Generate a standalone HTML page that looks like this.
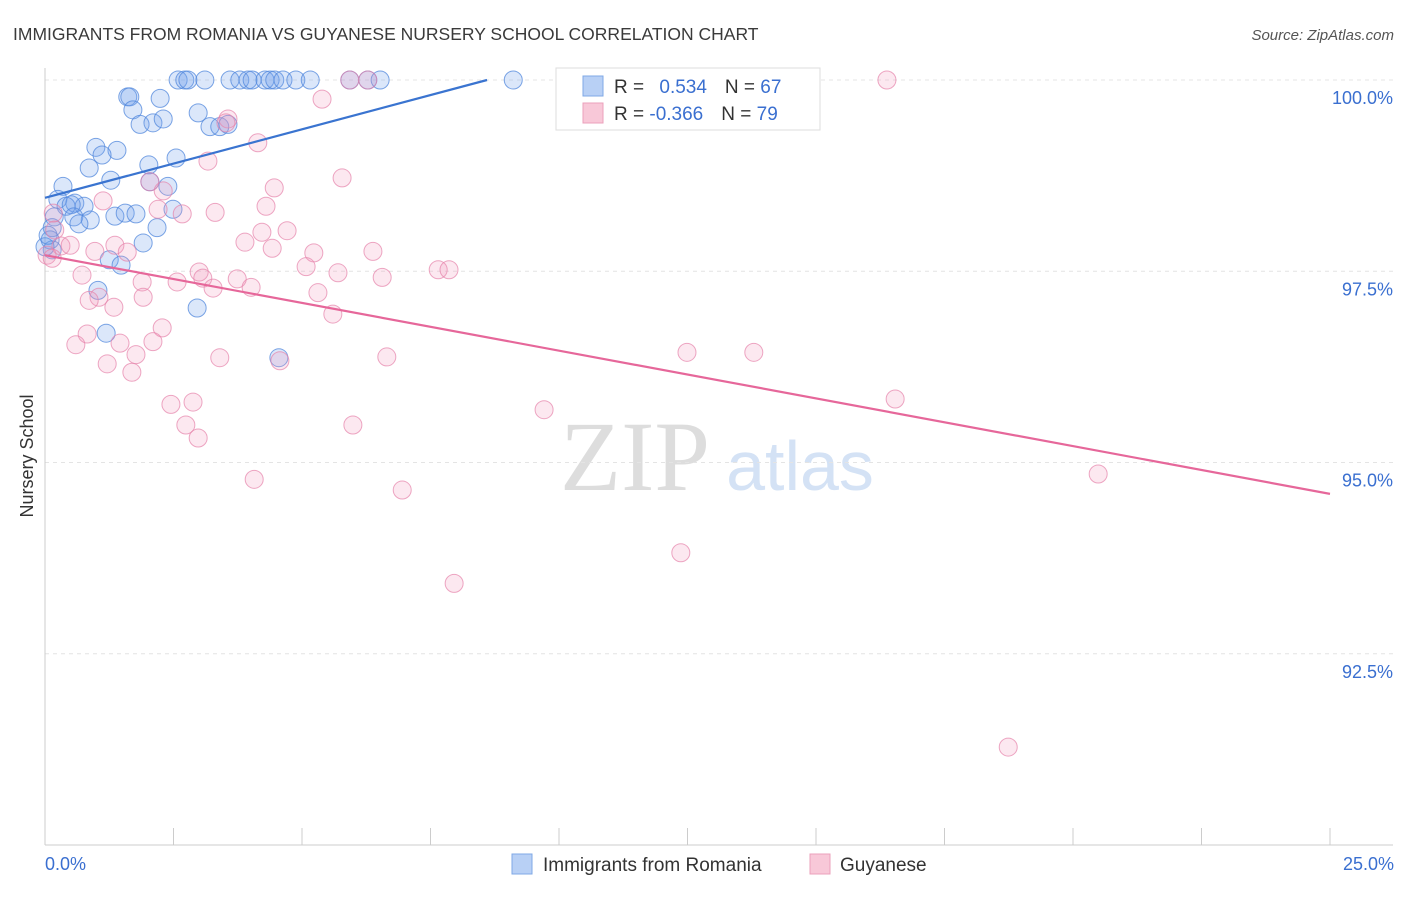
<!DOCTYPE html>
<html><head><meta charset="utf-8"><style>
body{margin:0;background:#fff;font-family:"Liberation Sans",sans-serif;}
</style></head><body>
<svg id="chart" width="1406" height="892" xmlns="http://www.w3.org/2000/svg" font-family="Liberation Sans, sans-serif">
<text x="13" y="40" font-size="17.5" fill="#3a3a3a">IMMIGRANTS FROM ROMANIA VS GUYANESE NURSERY SCHOOL CORRELATION CHART</text>
<text x="1394" y="40" font-size="15" fill="#555" text-anchor="end" font-style="italic">Source: ZipAtlas.com</text>
<text transform="translate(33,456) rotate(-90)" font-size="18" fill="#333" text-anchor="middle">Nursery School</text>
<g>
<text x="635" y="490" font-size="100" fill="#ddd" font-family="Liberation Serif, serif" text-anchor="middle">ZIP</text>
<text x="800" y="490" font-size="70" fill="#d4e2f5" text-anchor="middle">atlas</text>
</g>
<g id="grid"></g><g id="axes"></g><g id="pts"></g><g id="lines"></g>
<g>
<rect x="556" y="68" width="264" height="62" fill="#fff" stroke="#ddd"/>
<rect x="583" y="76" width="20" height="20" fill="#b8d0f5" stroke="#7fa8e6"/>
<text x="614" y="93" font-size="19" fill="#333">R = <tspan fill="#3a6fd0" dx="10">0.534</tspan><tspan dx="18" fill="#333">N = </tspan><tspan fill="#3a6fd0">67</tspan></text>
<rect x="583" y="103" width="20" height="20" fill="#f8c8d8" stroke="#eba0bb"/>
<text x="614" y="120" font-size="19" fill="#333">R = <tspan fill="#3a6fd0">-0.366</tspan><tspan dx="18" fill="#333">N = </tspan><tspan fill="#3a6fd0">79</tspan></text>
</g>
<g>
<rect x="512" y="854" width="20" height="20" fill="#b8d0f5" stroke="#7fa8e6"/>
<text x="543" y="871" font-size="19" fill="#333">Immigrants from Romania</text>
<rect x="810" y="854" width="20" height="20" fill="#f8c8d8" stroke="#eba0bb"/>
<text x="840" y="871" font-size="19" fill="#333">Guyanese</text>
</g>
</svg>
<script>
const blueX=[2.59,2.72,2.78,3.11,3.60,3.79,3.95,4.03,4.28,4.38,4.47,4.63,4.88,5.16,5.93,6.28,6.52,9.11,1.61,1.65,2.24,1.71,2.98,1.85,2.10,2.30,3.21,3.40,3.56,0.99,1.40,1.11,2.55,2.02,0.86,1.28,0.35,2.04,2.39,0.25,0.58,0.76,0.41,0.51,0.18,0.56,0.88,0.66,1.36,1.56,1.77,2.49,2.18,1.91,0.14,0.10,0.14,1.25,1.48,1.03,2.96,1.19,4.55,0,0.06];
const blueY=[100,100,100,100,100,100,100,100,100,100,100,100,100,100,100,100,100,100,99.78,99.78,99.76,99.61,99.57,99.42,99.44,99.49,99.39,99.39,99.42,99.12,99.08,99.02,98.98,98.89,98.85,98.69,98.61,98.67,98.61,98.44,98.39,98.35,98.35,98.37,98.21,98.21,98.17,98.12,98.22,98.26,98.25,98.31,98.07,97.87,98.07,97.91,97.78,97.65,97.58,97.25,97.02,96.69,96.37,97.82,97.97];
const pinkX=[5.93,6.28,16.38,5.39,3.56,3.52,4.14,3.17,5.78,4.46,2.04,2.30,1.13,2.67,3.31,2.20,4.30,0.16,0.19,4.22,4.71,3.89,4.42,6.38,5.23,0.31,0.49,0.97,1.36,1.60,0.04,0.14,0.72,5.08,5.70,3.00,3.07,3.74,6.56,7.65,7.86,1.89,2.57,3.27,4.01,5.31,1.05,0.86,1.91,1.34,5.60,2.28,0.82,0.60,2.10,1.46,1.77,1.21,3.40,6.65,1.69,4.57,12.49,13.79,2.45,2.88,9.71,16.54,2.74,2.98,5.99,4.07,6.95,20.49,12.37,7.96,18.74];
const pinkY=[100,100,100,99.75,99.49,99.44,99.18,98.94,98.72,98.59,98.67,98.55,98.42,98.25,98.27,98.31,98.35,98.26,98.04,98.01,98.03,97.88,97.80,97.76,97.74,97.83,97.84,97.76,97.84,97.75,97.71,97.67,97.45,97.56,97.48,97.49,97.41,97.40,97.42,97.52,97.52,97.36,97.36,97.28,97.29,97.22,97.16,97.12,97.16,97.03,96.94,96.76,96.68,96.54,96.58,96.56,96.41,96.29,96.37,96.38,96.18,96.33,96.44,96.44,95.76,95.79,95.69,95.83,95.49,95.32,95.49,94.78,94.64,94.85,93.82,93.42,91.28];
const yTicks=[100,97.5,95,92.5];
const yTickLabels=["100.0%","97.5%","95.0%","92.5%"];
const blueTrend=[[0,98.46],[8.6,100]];
const pinkTrend=[[0,97.71],[25,94.59]];
const NS="http://www.w3.org/2000/svg";
const sx=v=>45+v*51.4, sy=v=>80+(100-v)*76.5;
function mk(tag,attrs,parent){const e=document.createElementNS(NS,tag);for(const k in attrs)e.setAttribute(k,attrs[k]);document.getElementById(parent).appendChild(e);return e;}
yTicks.forEach((t,i)=>{
 const l=mk('line',{x1:45,x2:1393,y1:sy(t),y2:sy(t),stroke:'#e4e4e4','stroke-dasharray':'4,4'},'grid');
 
 
 const tx=mk('text',{x:1393,y:sy(t)+24,'font-size':18,fill:'#3a6fd0','text-anchor':'end'},'grid');
 tx.textContent=yTickLabels[i];
 
 
});
let ax=mk('line',{x1:45,x2:45,y1:68,y2:845,stroke:'#ccc'},'axes');


ax=mk('line',{x1:45,x2:1393,y1:845,y2:845,stroke:'#ccc'},'axes');


for(let i=0;i<=10;i++){const t=mk('line',{x1:sx(i*2.5),x2:sx(i*2.5),y1:828,y2:845,stroke:'#ccc'},'axes');
 
 }
let xl=mk('text',{x:45,y:870,'font-size':18,fill:'#3a6fd0'},'axes');xl.textContent='0.0%';


xl=mk('text',{x:1394,y:870,'font-size':18,fill:'#3a6fd0','text-anchor':'end'},'axes');xl.textContent='25.0%';


function pts(X,Y,fill,stroke,name){X.forEach((x,i)=>{const c=mk('circle',{cx:sx(x),cy:sy(Y[i]),r:9,fill:fill,stroke:stroke,'stroke-width':1},'pts');
 
 });}
pts(blueX,blueY,'rgba(110,160,235,0.25)','rgba(80,135,220,0.75)','romania-point');
pts(pinkX,pinkY,'rgba(240,150,185,0.22)','rgba(230,130,170,0.7)','guyanese-point');
let tl=mk('line',{x1:sx(blueTrend[0][0]),y1:sy(blueTrend[0][1]),x2:sx(blueTrend[1][0]),y2:sy(blueTrend[1][1]),stroke:'#3a74d0','stroke-width':2.2},'lines');


tl=mk('line',{x1:sx(pinkTrend[0][0]),y1:sy(pinkTrend[0][1]),x2:sx(pinkTrend[1][0]),y2:sy(pinkTrend[1][1]),stroke:'#e6679a','stroke-width':2.2},'lines');


</script>
</body></html>
